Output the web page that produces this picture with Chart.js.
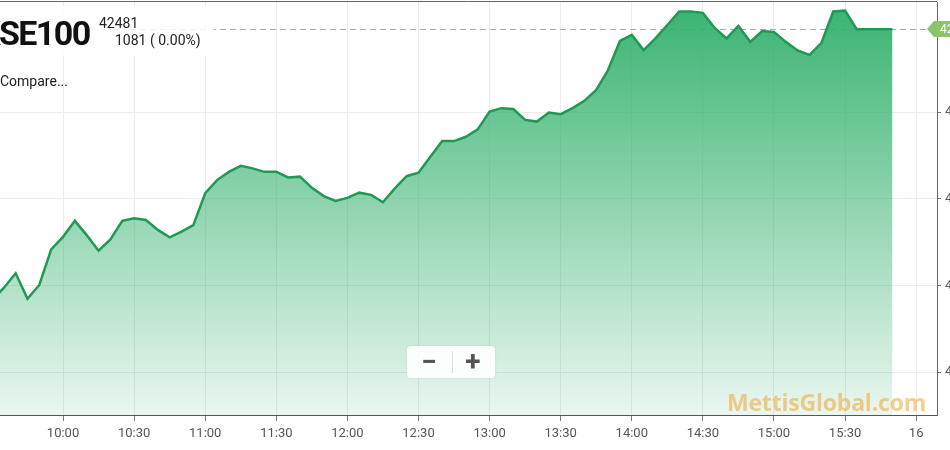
<!DOCTYPE html>
<html>
<head>
<meta charset="utf-8">
<title>KSE100</title>
<script src="https://cdn.jsdelivr.net/npm/chart.js@4.4.1/dist/chart.umd.min.js"></script>
<style>
  body { margin: 0; width: 950px; height: 450px; overflow: hidden; background: #fff; position: relative; font-family: Roboto, "Noto Sans", sans-serif; }
  #wrap { position: absolute; left: 0; top: 0; width: 1000px; height: 450px; }
  #head { position: absolute; left: 0; top: 6px; width: 214px; height: 50px; background: rgba(255,255,255,0.85); }
  #name { position: absolute; left: -21px; top: 16px; font-size: 34px; font-weight: 700; line-height: 1; color: #111; letter-spacing: -1.6px; }
  #last { position: absolute; left: 99px; top: 16px; font-size: 14px; line-height: 1; color: #222; }
  #chg { position: absolute; left: 115px; top: 33px; font-size: 14px; line-height: 1; color: #222; }
  #compare { position: absolute; left: 0; top: 74px; font-size: 14px; line-height: 1; color: #222; }
  #zoom { position: absolute; left: 407px; top: 346px; width: 88px; height: 32px; background: rgba(255,255,255,0.92); border-radius: 4px; box-shadow: 0 0 3px rgba(0,0,0,0.08); }
  #zoom span { position: absolute; top: 0; width: 44px; height: 32px; line-height: 31px; text-align: center; font-size: 28px; font-weight: 700; color: #555; }
  #zoom .div { position: absolute; left: 45px; top: 5px; width: 1px; height: 22px; background: #ddd; }
  #mark { position: absolute; left: 727px; top: 386px; font-size: 23px; font-weight: 700; color: rgba(238,170,60,0.58); font-family: "Open Sans", Roboto, sans-serif; letter-spacing: -0.2px; }
</style>
</head>
<body>
<div id="wrap"><canvas id="myChart"></canvas></div>
<div id="head"></div>
<div id="name">KSE100</div>
<div id="last">42481</div>
<div id="chg">1081 ( 0.00%)</div>
<div id="compare">Compare...</div>
<div id="zoom"><span style="left:0">−</span><div class="div"></div><span style="left:44px">+</span></div>
<div id="mark">MettisGlobal.com</div>
<script>
var times = [
	"09:30", "09:35", "09:40", "09:45", "09:50", "09:55",
	"10:00", "10:05", "10:10", "10:15", "10:20", "10:25",
	"10:30", "10:35", "10:40", "10:45", "10:50", "10:55",
	"11:00", "11:05", "11:10", "11:15", "11:20", "11:25",
	"11:30", "11:35", "11:40", "11:45", "11:50", "11:55",
	"12:00", "12:05", "12:10", "12:15", "12:20", "12:25",
	"12:30", "12:35", "12:40", "12:45", "12:50", "12:55",
	"13:00", "13:05", "13:10", "13:15", "13:20", "13:25",
	"13:30", "13:35", "13:40", "13:45", "13:50", "13:55",
	"14:00", "14:05", "14:10", "14:15", "14:20", "14:25",
	"14:30", "14:35", "14:40", "14:45", "14:50", "14:55",
	"15:00", "15:05", "15:10", "15:15", "15:20", "15:25",
	"15:30", "15:35", "15:40", "15:45", "15:50",
];
var values = [
	41856, 41884, 41918, 41859, 41891, 41973,
	42002, 42039, 42006, 41970, 41996, 42039,
	42045, 42041, 42018, 42001, 42014, 42029,
	42103, 42133, 42152, 42166, 42160, 42152,
	42152, 42139, 42141, 42115, 42096, 42085,
	42092, 42104, 42099, 42082, 42114, 42142,
	42150, 42187, 42223, 42223, 42233, 42250,
	42291, 42299, 42297, 42272, 42268, 42289,
	42285, 42299, 42316, 42341, 42387, 42454,
	42468, 42433, 42460, 42491, 42522, 42522,
	42519, 42484, 42460, 42489, 42452, 42477,
	42475, 42452, 42432, 42422, 42449, 42522,
	42524, 42481, 42481, 42481, 42481,
];
var xTicks = ["10:00", "10:30", "11:00", "11:30", "12:00", "12:30", "13:00", "13:30", "14:00", "14:30", "15:00", "15:30", "16:00"];
var yTicks = [41690, 41890, 42090, 42290];
var lastValue = 42481;

function toMin(t) {
	var p = t.split(":");
	return +p[0] * 60 + +p[1];
}
function fromMin(m) {
	var h = Math.floor(m / 60), mm = m % 60;
	if (h == 16) return "16";
	return h + ":" + (mm < 10 ? "0" : "") + mm;
}

var points = times.map(function (t, i) {
	return { x: toMin(t), y: values[i] };
});

// dashed last-price line under the area, tag and top border over everything
var lastLine = {
	id: "lastLine",
	beforeDatasetsDraw(chart) {
		const { ctx, chartArea } = chart;
		const y = Math.round(chart.scales.y.getPixelForValue(lastValue)) + 0.5;
		ctx.save();
		ctx.strokeStyle = "#aaa";
		ctx.lineWidth = 1;
		ctx.setLineDash([6, 4]);
		ctx.beginPath();
		ctx.moveTo(chartArea.left, y);
		ctx.lineTo(chartArea.right, y);
		ctx.stroke();
		ctx.restore();
	},
	afterDraw(chart) {
		const { ctx, chartArea } = chart;
		const y = Math.round(chart.scales.y.getPixelForValue(lastValue));
		ctx.save();
		ctx.strokeStyle = "#666";
		ctx.lineWidth = 1;
		ctx.beginPath();
		ctx.moveTo(0, chartArea.top - 0.5);
		ctx.lineTo(chartArea.right, chartArea.top - 0.5);
		ctx.stroke();
		const x0 = chartArea.right - 10;
		ctx.fillStyle = "#8cc46e";
		ctx.beginPath();
		ctx.moveTo(x0, y);
		ctx.lineTo(x0 + 7, y - 8);
		ctx.lineTo(x0 + 60, y - 8);
		ctx.lineTo(x0 + 60, y + 8);
		ctx.lineTo(x0 + 7, y + 8);
		ctx.closePath();
		ctx.fill();
		ctx.fillStyle = "#fff";
		ctx.font = "12px Roboto";
		ctx.textBaseline = "middle";
		ctx.fillText(String(lastValue), x0 + 13, y + 1);
		ctx.restore();
	},
};

new Chart("myChart", {
	type: "line",
	data: {
		datasets: [
			{
				data: points,
				borderColor: "#1e9a55",
				borderWidth: 2.5,
				pointRadius: 0,
				tension: 0,
				fill: "start",
				backgroundColor: function (context) {
					const { ctx, chartArea } = context.chart;
					if (!chartArea) return "rgba(52,178,110,0.5)";
					const g = ctx.createLinearGradient(0, chartArea.top, 0, chartArea.bottom);
					g.addColorStop(0, "rgba(50,176,108,0.97)");
					g.addColorStop(1, "rgba(50,176,108,0.1)");
					return g;
				},
			},
		],
	},
	options: {
		responsive: true,
		maintainAspectRatio: false,
		animation: false,
		layout: { padding: { top: 2, left: 0, right: 0, bottom: 0 } },
		plugins: {
			legend: { display: false },
			tooltip: { enabled: false },
		},
		scales: {
			x: {
				type: "linear",
				min: 573.4,
				max: 968.8,
				afterBuildTicks: function (scale) {
					scale.ticks = xTicks.map(function (t) {
						return { value: toMin(t) };
					});
				},
				afterFit: function (scale) {
					scale.height = 35;
					scale.paddingLeft = 0;
					scale.paddingRight = 0;
				},
				grid: { color: "#ececec", tickColor: "#777", tickLength: 6 },
				border: { color: "#555" },
				ticks: {
					color: "#555",
					font: { family: "Roboto", size: 13 },
					padding: 5,
					maxRotation: 0,
					callback: function (v) {
						return fromMin(v);
					},
				},
			},
			y: {
				position: "right",
				min: 41590.9,
				max: 42544,
				afterBuildTicks: function (scale) {
					scale.ticks = yTicks.map(function (v) {
						return { value: v };
					});
				},
				afterFit: function (scale) {
					scale.width = 63;
					scale.paddingTop = 0;
					scale.paddingBottom = 0;
				},
				grid: { color: "#ececec", tickColor: "#777", tickLength: 4 },
				border: { color: "#666" },
				ticks: {
					color: "#555",
					font: { family: "Roboto", size: 13 },
					padding: 4,
					callback: function (v) {
						return String(v);
					},
				},
			},
		},
	},
	plugins: [lastLine],
});
</script>
</body>
</html>
